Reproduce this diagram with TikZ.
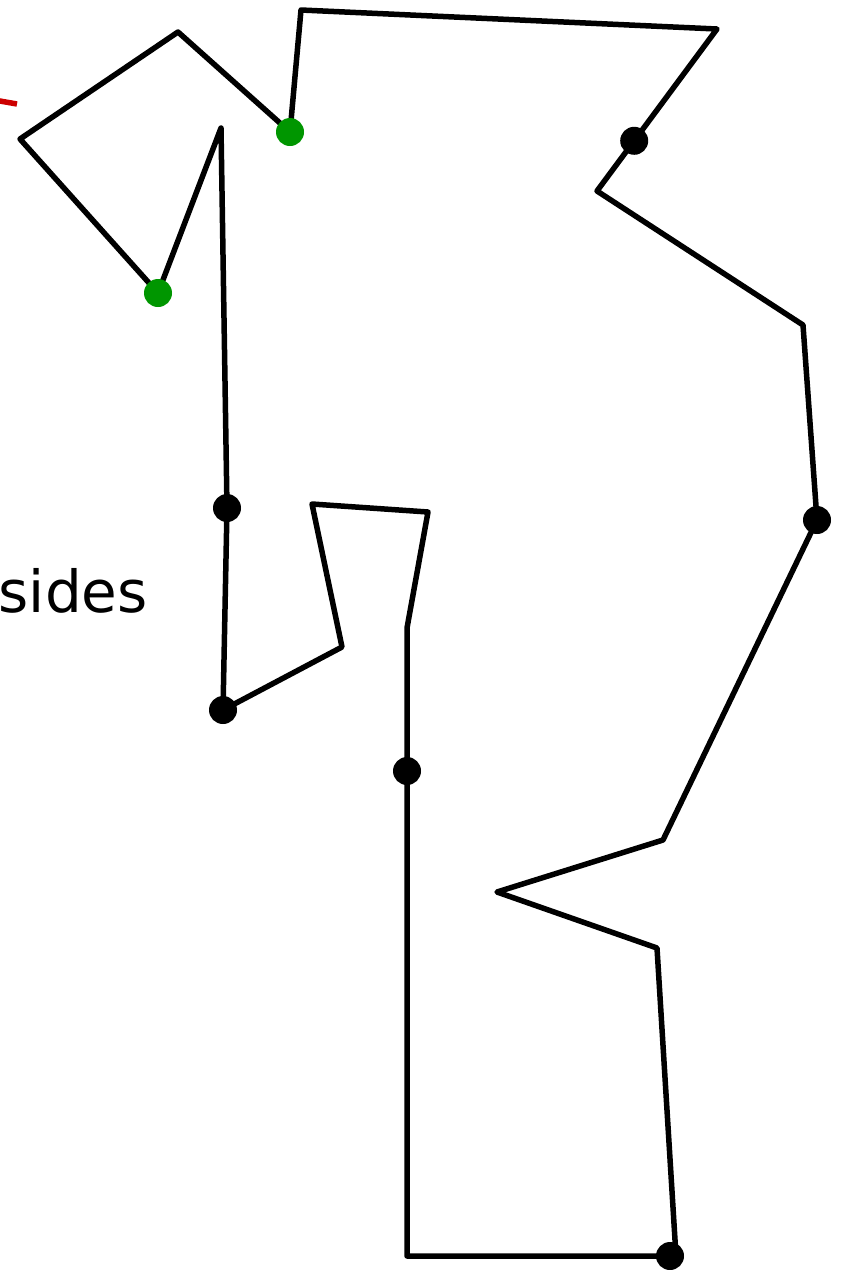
\documentclass[tikz,border=0pt]{standalone}
\usepackage{fontspec}
\usetikzlibrary{calc}
\newfontfamily\labelfont{DejaVu Sans}
\definecolor{markgreen}{RGB}{0,150,0}
\definecolor{markred}{RGB}{204,0,0}

\begin{document}
\begin{tikzpicture}[
      x=1pt, y=-1pt,
      edge/.style={line width=5.5pt, line join=round},
      cut/.style={line width=5.5pt, draw=markred},
      dot/.style={circle, fill=black, inner sep=0pt, minimum size=28pt},
      gdot/.style={dot, fill=markgreen},
      label/.style={font=\labelfont\fontsize{58}{64}\selectfont, inner sep=0pt, anchor=base east}
    ]
    \useasboundingbox (0,0) rectangle (845,1270);
    \clip (0,0) rectangle (845,1270);

    % outline corners
    \coordinate (p1) at (158,293);
    \coordinate (p2) at (20,139);
    \coordinate (p3) at (178,32);
    \coordinate (p4) at (290,132);
    \coordinate (p5) at (301,10);
    \coordinate (p6) at (717,29);
    \coordinate (p7) at (597,191);
    \coordinate (p8) at (803,325);
    \coordinate (p9) at (817,520);
    \coordinate (p10) at (663,840);
    \coordinate (p11) at (497,892);
    \coordinate (p12) at (657,948);
    \coordinate (p13) at (676,1256);
    \coordinate (p14) at (407,1256);
    \coordinate (p15) at (407,628);
    \coordinate (p16) at (428,512);
    \coordinate (p17) at (312,504);
    \coordinate (p18) at (342,647);
    \coordinate (p19) at (223,710);
    \coordinate (p20) at (227,508);
    \coordinate (p21) at (221,128);

    \draw[edge] (p1) -- (p2) -- (p3) -- (p4) -- (p5) -- (p6) -- (p7) -- (p8) -- (p9)
      -- (p10) -- (p11) -- (p12) -- (p13) -- (p14) -- (p15) -- (p16) -- (p17)
      -- (p18) -- (p19) -- (p20) -- (p21) -- cycle;

    % red stub at the left edge
    \coordinate (r1) at (-20,97.5);
    \coordinate (r2) at (17,104);
    \draw[cut] (r1) -- (r2);

    \node[label] (sides) at (148,612) {sides};

    % markers
    \node[gdot] (g1) at (p1) {};
    \node[gdot] (g2) at (p4) {};
    \node[dot] (b1) at ($(p6)!0.69!(p7)$) {};
    \node[dot] (b2) at (p9) {};
    \node[dot] (b3) at (670,1256) {};
    \node[dot] (b4) at (407,771) {};
    \node[dot] (b5) at (p19) {};
    \node[dot] (b6) at (p20) {};
  \end{tikzpicture}
\end{document}
